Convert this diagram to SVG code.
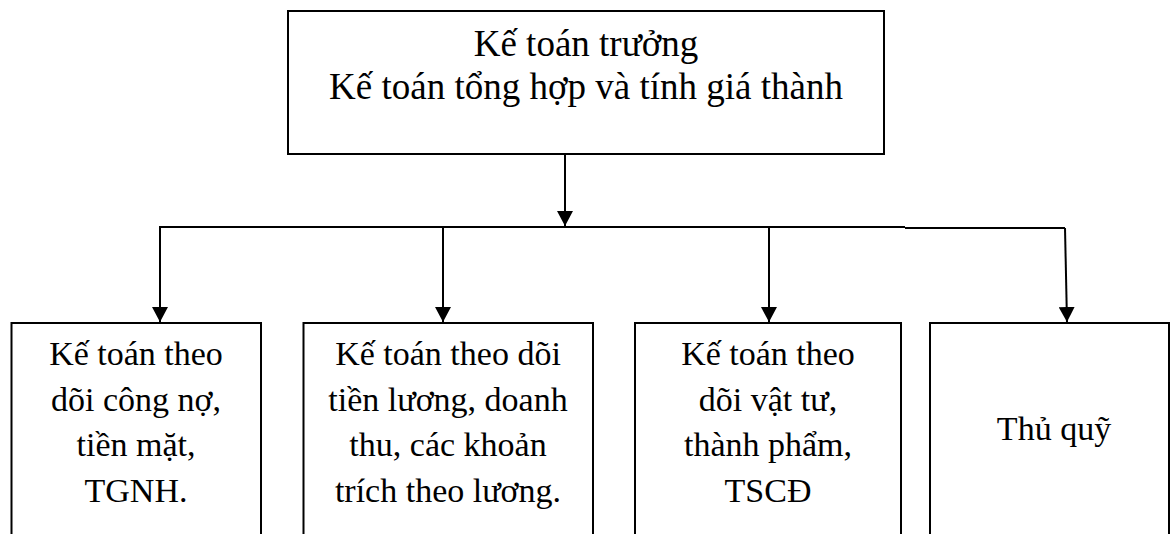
<svg xmlns="http://www.w3.org/2000/svg" width="1171" height="534" viewBox="0 0 1171 534">
<style>
.box{fill:#fff;stroke:#000;stroke-width:2}
.t{font-family:"Liberation Serif","Times New Roman",serif;fill:#000;text-anchor:middle}
.top{font-size:37px}
.sub{font-size:34px}
.ln{fill:none;stroke:#000;stroke-width:2}
</style>
<defs>
<marker id="ah" markerWidth="16" markerHeight="16" refX="15" refY="8" orient="auto" markerUnits="userSpaceOnUse">
<path d="M0,0 L15,8 L0,16 Z" fill="#000"/>
</marker>
</defs>
<rect width="1171" height="534" fill="#fff"/>
<g id="connectors">
<line class="ln" x1="565" y1="154" x2="565" y2="226" marker-end="url(#ah)"/>
<polyline class="ln" points="159,227 905,227"/>
<polyline class="ln" points="905,228 1065,228"/>
<line class="ln" x1="160" y1="227" x2="160" y2="322" marker-end="url(#ah)"/>
<line class="ln" x1="443" y1="227" x2="443" y2="322" marker-end="url(#ah)"/>
<line class="ln" x1="769" y1="227" x2="769" y2="322" marker-end="url(#ah)"/>
<line class="ln" x1="1065" y1="228" x2="1067" y2="322" marker-end="url(#ah)"/>
</g>
<g id="n-top">
<rect class="box" x="288" y="11" width="596" height="143"/>
<text class="t top" x="586" y="56">Kế toán trưởng</text>
<text class="t top" x="586" y="99">Kế toán tổng hợp và tính giá thành</text>
</g>
<g id="n-congno">
<rect class="box" x="11.5" y="323" width="249.5" height="240"/>
<text class="t sub" x="136" y="365">Kế toán theo</text>
<text class="t sub" x="136" y="411">dõi công nợ,</text>
<text class="t sub" x="136" y="456">tiền mặt,</text>
<text class="t sub" x="136" y="502">TGNH.</text>
</g>
<g id="n-luong">
<rect class="box" x="303.5" y="323" width="289.5" height="240"/>
<text class="t sub" x="448" y="365">Kế toán theo dõi</text>
<text class="t sub" x="448" y="411">tiền lương, doanh</text>
<text class="t sub" x="448" y="456">thu, các khoản</text>
<text class="t sub" x="448" y="502">trích theo lương.</text>
</g>
<g id="n-vattu">
<rect class="box" x="635" y="323" width="266" height="240"/>
<text class="t sub" x="768" y="365">Kế toán theo</text>
<text class="t sub" x="768" y="411">dõi vật tư,</text>
<text class="t sub" x="768" y="456">thành phẩm,</text>
<text class="t sub" x="768" y="502">TSCĐ</text>
</g>
<g id="n-thuquy">
<rect class="box" x="930" y="323" width="239" height="240"/>
<text class="t sub" x="1054" y="440">Thủ quỹ</text>
</g>
</svg>
